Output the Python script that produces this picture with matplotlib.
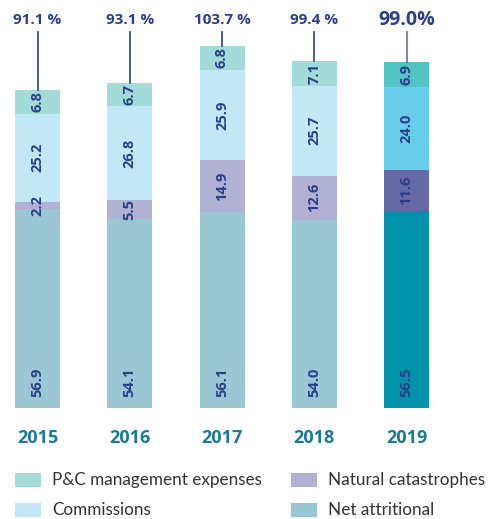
import matplotlib.pyplot as plt
from matplotlib.patches import Rectangle

years = ["2015", "2016", "2017", "2018", "2019"]
net_attritional = [56.9, 54.1, 56.1, 54.0, 56.5]
nat_cat = [2.2, 5.5, 14.9, 12.6, 11.6]
commissions = [25.2, 26.8, 25.9, 25.7, 24.0]
mgmt_expenses = [6.8, 6.7, 6.8, 7.1, 6.9]
ratio_labels = ["91.1 %", "93.1 %", "103.7 %", "99.4 %", "99.0%"]
legend_labels = ["P&C management expenses", "Commissions",
                 "Natural catastrophes", "Net attritional"]

# pale colours for past years, strong ones for the last year
pale = {"net": "#9bc6d4", "cat": "#b1b1d3", "com": "#c2e8f6", "mgmt": "#a3dbd9"}
strong = {"net": "#0092aa", "cat": "#6569a6", "com": "#68cdeb", "mgmt": "#52c4c3"}
navy = "#2b3e8a"
teal = "#1b7a94"

plt.rcParams["font.family"] = ["Lato", "DejaVu Sans"]
bold_font = ["Open Sans", "DejaVu Sans"]

W, H = 502, 519
fig = plt.figure(figsize=(W / 100, H / 100), dpi=100)
px_per_unit = 3.49
bottom_px = 408
ax = fig.add_axes([0, (H - bottom_px) / H, 1, bottom_px / H])
step = 92.25
ax.set_xlim(-37.5 / step, (W - 37.5) / step)
ax.set_ylim(0, bottom_px / px_per_unit)
ax.axis("off")

width = 45 / step
for i, year in enumerate(years):
    last = i == len(years) - 1
    cols = strong if last else pale
    segs = [("net", net_attritional[i]), ("cat", nat_cat[i]),
            ("com", commissions[i]), ("mgmt", mgmt_expenses[i])]
    base = 0
    for key, val in segs:
        ax.bar(i, val, width=width, bottom=base, color=cols[key], linewidth=0)
        y = 7.4 if key == "net" else base + val / 2
        ax.text(i, y, f"{val:.1f}", rotation=90, ha="center", va="center",
                color=navy, fontsize=10.5, fontweight="bold", family=bold_font)
        base += val
    top_y = (bottom_px - 32) / px_per_unit
    ax.plot([i, i], [base, top_y], color=navy, lw=1.2 if not last else 1.5,
            alpha=1 if not last else 0.6)
    ax.text(i, (bottom_px - 20) / px_per_unit, ratio_labels[i], ha="center",
            va="center", color=navy, fontweight="bold", family=bold_font,
            fontsize=14 if last else 11)
    ax.text(i, (bottom_px - 438) / px_per_unit, year, ha="center", va="center",
            color=teal, fontweight="bold", family=bold_font, fontsize=13,
            clip_on=False)

# legend drawn by hand, two columns
legend_colors = [pale["mgmt"], pale["com"], pale["cat"], pale["net"]]
for k, (lab, col) in enumerate(zip(legend_labels, legend_colors)):
    x0 = 15 if k < 2 else 291
    yc = 480 if k % 2 == 0 else 510
    fig.add_artist(Rectangle((x0 / W, (H - yc - 7) / H), 26 / W, 14 / H,
                             transform=fig.transFigure, color=col, lw=0))
    fig.text((x0 + 37) / W, (H - yc) / H, lab, ha="left", va="center",
             fontsize=12.3, color="#333333")

fig.savefig("out.png", dpi=100)
